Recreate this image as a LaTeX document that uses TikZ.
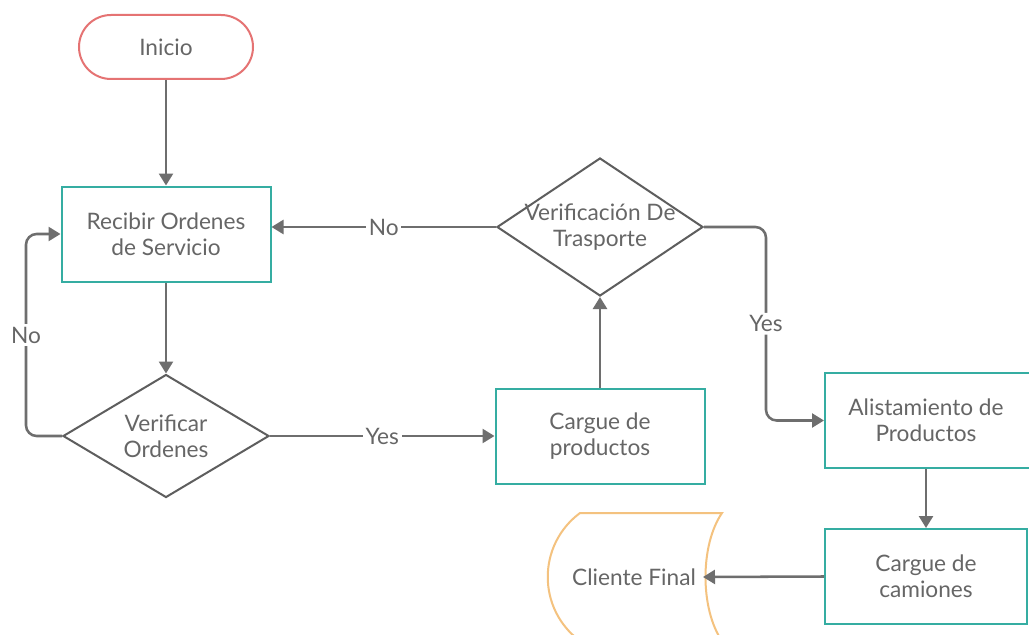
\documentclass[tikz,border=0pt]{standalone}
\usepackage{fontspec}
\setmainfont{Lato}
\usetikzlibrary{arrows.meta,shapes.geometric,calc}
\definecolor{tealc}{HTML}{35ADA2}
\definecolor{redc}{HTML}{E57373}
\definecolor{orangec}{HTML}{F4C27F}
\definecolor{linec}{HTML}{6E6E6E}
\definecolor{diac}{HTML}{5E5E5E}
\definecolor{txtc}{HTML}{666666}
\begin{document}
\begin{tikzpicture}[x=0.75pt,y=-0.75pt,
  txt/.style={text=txtc,font=\fontsize{17}{19.5}\selectfont,align=center,inner sep=0pt},
  procbox/.style={txt,draw=tealc,line width=1.5pt,fill=white,rectangle,minimum width=156.75pt,minimum height=71.25pt},
  startbox/.style={txt,draw=redc,line width=1.5pt,fill=white,rectangle,rounded corners=24pt,minimum width=130.5pt,minimum height=48pt},
  dia/.style={draw=diac,line width=1.5pt,fill=white,diamond,inner sep=0pt},
  conn/.style={draw=linec,line width=1.9pt,-{Triangle[length=9pt,width=10.5pt]}},
  lbl/.style={txt,fill=white,inner sep=2pt}]
\useasboundingbox (0,0) rectangle (1029,635);
\clip (0,0) rectangle (1029,635);
\fill[white] (0,0) rectangle (1029,635);

% nodes
\node[startbox] (ini) at (166,47) {Inicio};
\node[procbox] (rec) at (166,234) {Recibir Ordenes\\de Servicio};
\node[dia,minimum width=154.5pt,minimum height=92.25pt] (vo) at (166,436) {};
\node[txt] (votxt) at (vo) {Verificar\\Ordenes};
\node[procbox] (cp) at (600,436) {Cargue de\\productos};
\node[dia,minimum width=154.5pt,minimum height=103.5pt] (vt) at (600,227) {};
\node[txt] (vttxt) at (600,227) {Verificación De\\Trasporte};
\node[procbox,minimum width=154.5pt] (al) at (928,420.5) {};
\node[txt] (altxt) at (926,420.5) {Alistamiento de\\Productos};
\node[procbox,minimum width=151.5pt] (cc) at (926,576.5) {Cargue de\\camiones};

% Cliente Final (stored data shape)
\draw[draw=orangec,line width=1.5pt,fill=white]
  (580,513) -- (722,513) .. controls (700,545) and (700,609) .. (722,641)
  -- (580,641) .. controls (537,609) and (537,545) .. (580,513) -- cycle;
\node[txt] (cf) at (634,577) {Cliente Final};
\coordinate (cfe) at (703,577);

% connectors
\draw[conn] (ini.south) -- (rec.north);
\draw[conn] (rec.south) -- (vo.north);
\draw[conn,rounded corners=8pt] (vo.west) -- ++(-36,0) |- (rec.west)
  node[lbl,pos=0.25] {No};
\draw[conn] (vo.east) -- (cp.west) node[lbl,midway] {Yes};
\draw[conn] (cp.north) -- (vt.south);
\draw[conn] (vt.west) -- (vt.west -| rec.east) node[lbl,midway] {No};
\draw[conn,rounded corners=8pt] (vt.east) -- ++(62,0) |- (al.west)
  node[lbl,pos=0.25] {Yes};
\draw[conn] (cc.north |- al.south) -- (cc.north);
\draw[conn] (cc.west) -- (cfe);
\end{tikzpicture}
\end{document}
